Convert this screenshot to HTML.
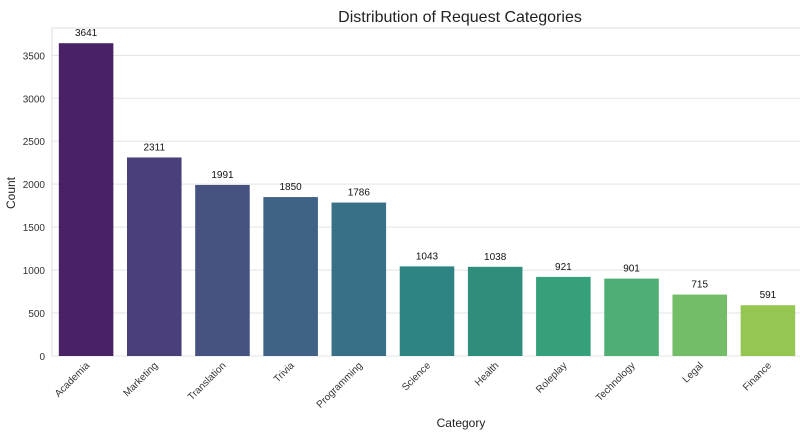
<!DOCTYPE html>
<html><head><meta charset="utf-8"><style>
body{margin:0;background:#fff;font-family:"Liberation Sans",Arial,sans-serif}
</style></head><body>
<svg id="c" width="800" height="431" xmlns="http://www.w3.org/2000/svg"></svg>
<script>
const categories=["Academia","Marketing","Translation","Trivia","Programming","Science","Health","Roleplay","Technology","Legal","Finance"];
const counts=[3641,2311,1991,1850,1786,1043,1038,921,901,715,591];
const yTicks=[0,500,1000,1500,2000,2500,3000,3500];
const colors=["#482264","#4a3f7b","#46527f","#3f6286","#387187","#2e8482","#2f8d7c","#35a079","#4fae73","#74bd68","#94c651"];
const svg=document.getElementById('c');const NS="http://www.w3.org/2000/svg";
const L=52,T=28,B=356,R=802,yMax=3818;
const y=v=>B-(v/yMax)*(B-T);
const bw=(R-L)/categories.length;
const x=i=>L+i*bw;
function mk(t,a,txt){const e=document.createElementNS(NS,t);for(const k in a)e.setAttribute(k,a[k]);if(txt!=null)e.textContent=txt;svg.appendChild(e);return e;}
let f=mk('rect',{x:L,y:T,width:R-L,height:B-T,fill:'#fff',stroke:'#dddddd','stroke-width':1});


yTicks.forEach(v=>{
 let g=mk('line',{x1:L,x2:R,y1:y(v),y2:y(v),stroke:'#e3e3e3','stroke-width':1});
 
 
 let t=mk('text',{x:L-7,y:y(v)+4,'text-anchor':'end','font-size':10,fill:'#333'},v);
 
 
});
categories.forEach((c,i)=>{
 const bx=x(i)+bw*0.1,w=bw*0.8;
 let r=mk('rect',{x:bx,y:y(counts[i]),width:w,height:B-y(counts[i]),fill:colors[i]});
 
 
 let lb=mk('text',{x:bx+w/2,y:y(counts[i])-7,'text-anchor':'middle','font-size':10,fill:'#111'},counts[i]);
 
 
 const cx=bx+w/2+4,cy=B+10;
 let tl=mk('text',{x:cx,y:cy,'text-anchor':'end','font-size':10,fill:'#333',transform:`rotate(-45 ${cx} ${cy})`},c);
 
 
});
let tt=mk('text',{x:460,y:22,'text-anchor':'middle','font-size':16,fill:'#222'},'Distribution of Request Categories');


let xt=mk('text',{x:461,y:427,'text-anchor':'middle','font-size':12,fill:'#222'},'Category');


let yt=mk('text',{x:15,y:193,'text-anchor':'middle','font-size':12,fill:'#222',transform:'rotate(-90 15 193)'},'Count');


</script>
</body></html>
